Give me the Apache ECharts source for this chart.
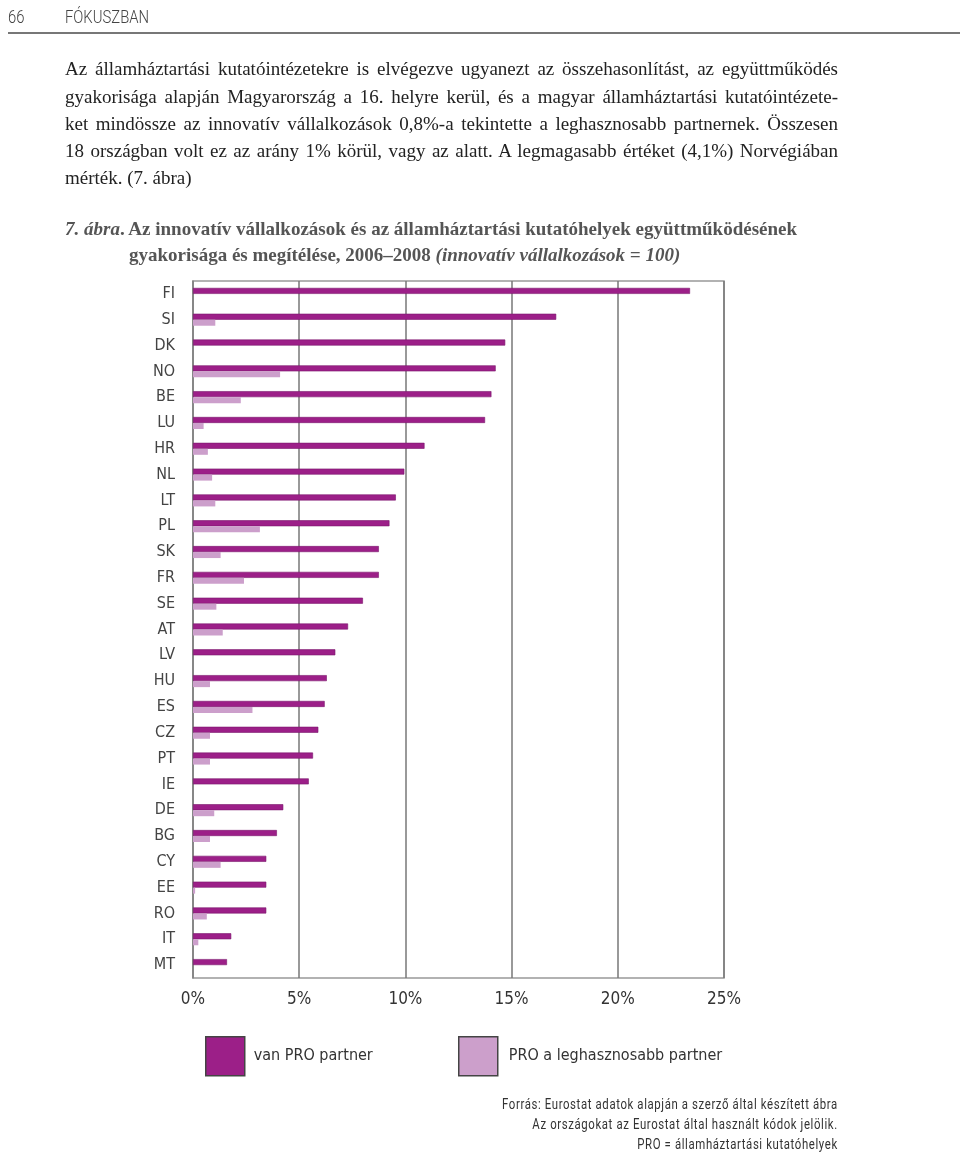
<!DOCTYPE html>
<html><head><meta charset="utf-8">
<script src="https://cdn.jsdelivr.net/npm/echarts@6/dist/echarts.min.js"></script>
<style>
html,body{margin:0;padding:0;background:#fff;}
#page{position:relative;width:960px;height:1154px;overflow:hidden;}
#chart{position:absolute;left:0;top:0;width:960px;height:1154px;}
.t{position:absolute;white-space:nowrap;}
.cond{font-family:"DejaVu Sans Condensed","Roboto",sans-serif;}
.para{position:absolute;left:65px;width:773px;font-family:"Liberation Serif","DejaVu Serif",serif;font-size:19px;color:#222;white-space:nowrap;line-height:27px;}
.j{text-align:justify;text-align-last:justify;}
.cap{position:absolute;font-family:"Liberation Serif","DejaVu Serif",serif;font-size:19px;font-weight:bold;color:#555;white-space:nowrap;line-height:26px;}
</style></head>
<body><div id="page">
<div id="chart"></div>
<div class="t" style="left:8px;top:5px;font-family:Roboto,sans-serif;font-weight:300;font-size:19px;color:#444;transform:scaleX(0.78);transform-origin:left top;">66</div>
<div class="t" style="left:65px;top:5px;font-family:Roboto,sans-serif;font-weight:300;font-size:19px;color:#444;transform:scaleX(0.78);transform-origin:left top;">FÓKUSZBAN</div>
<div style="position:absolute;left:8px;top:32px;width:952px;height:2px;background:#777;"></div>
<div class="para j" style="top:55px;">Az államháztartási kutatóintézetekre is elvégezve ugyanezt az összehasonlítást, az együttműködés</div>
<div class="para j" style="top:83px;">gyakorisága alapján Magyarország a 16. helyre kerül, és a magyar államháztartási kutatóintézete-</div>
<div class="para j" style="top:110px;">ket mindössze az innovatív vállalkozások 0,8%-a tekintette a leghasznosabb partnernek. Összesen</div>
<div class="para j" style="top:137px;">18 országban volt ez az arány 1% körül, vagy az alatt. A legmagasabb értéket (4,1%) Norvégiában</div>
<div class="para" style="top:164px;">mérték. (7. ábra)</div>
<div class="cap" style="left:65px;top:216px;width:732px;text-align:justify;text-align-last:justify;"><i>7. ábra</i>. Az innovatív vállalkozások és az államháztartási kutatóhelyek együttműködésének</div>
<div class="cap" style="left:129px;top:242px;">gyakorisága és megítélése, 2006–2008 <i>(innovatív vállalkozások = 100)</i></div>
<div class="t" style="right:122px;top:1094px;font-family:Roboto,sans-serif;font-size:15px;color:#333;letter-spacing:0.8px;text-align:right;line-height:20px;transform:scaleX(0.76);transform-origin:right top;">Forrás: Eurostat adatok alapján a szerző által készített ábra<br>Az országokat az Eurostat által használt kódok jelölik.<br>PRO = államháztartási kutatóhelyek</div>
</div>
<script>
var categories = ["FI","SI","DK","NO","BE","LU","HR","NL","LT","PL","SK","FR","SE","AT","LV","HU","ES","CZ","PT","IE","DE","BG","CY","EE","RO","IT","MT"];
var vanPro = [23.4,17.1,14.7,14.25,14.05,13.75,10.9,9.95,9.55,9.25,8.75,8.75,8.0,7.3,6.7,6.3,6.2,5.9,5.65,5.45,4.25,3.95,3.45,3.45,3.45,1.8,1.6];
var proLeg = [0,1.05,0,4.1,2.25,0.5,0.7,0.9,1.05,3.15,1.3,2.4,1.1,1.4,0,0.8,2.8,0.8,0.8,0,1.0,0.8,1.3,0.1,0.65,0.25,0];
var xTicks = [0,5,10,15,20,25];
var seriesNames = ["van PRO partner","PRO a leghasznosabb partner"];

var cond = '"DejaVu Sans Condensed","Roboto",sans-serif';
var chart = echarts.init(document.getElementById('chart'), null, {renderer:'canvas'});
chart.setOption({
  animation:false,
  grid:{left:193, top:281, width:531, height:697, show:true, borderColor:'#999', borderWidth:1.5, containLabel:false},
  legend:[
    {data:[seriesNames[0]], left:205, top:1036, padding:0, icon:'rect', itemWidth:39, itemHeight:39, itemGap:10,
     textStyle:{fontFamily:cond, fontSize:16, color:'#333', padding:[0,0,0,4]},
     itemStyle:{borderColor:'#444', borderWidth:1.5}, selectedMode:false},
    {data:[seriesNames[1]], left:458, top:1036, padding:0, icon:'rect', itemWidth:39, itemHeight:39, itemGap:10,
     textStyle:{fontFamily:cond, fontSize:16, color:'#333', padding:[0,0,0,6]},
     itemStyle:{borderColor:'#444', borderWidth:1.5}, selectedMode:false}
  ],
  xAxis:{type:'value', min:0, max:25, interval:5,
    axisLine:{show:false}, axisTick:{show:false},
    splitLine:{show:true, lineStyle:{color:'#777', width:1.5}},
    axisLabel:{formatter:function(v){return v+'%';}, fontFamily:cond, fontSize:17, color:'#333', margin:13}},
  yAxis:{type:'category', data:categories, inverse:true,
    axisLine:{show:true, lineStyle:{color:'#888', width:1.5}}, axisTick:{show:false},
    axisLabel:{fontFamily:cond, fontSize:16, color:'#444', margin:18}},
  series:[
    {name:seriesNames[0], type:'bar', data:vanPro, barWidth:6, barGap:'0%',
     itemStyle:{color:'#9c1f88', borderColor:'#7a176b', borderWidth:0.6}},
    {name:seriesNames[1], type:'bar', data:proLeg, barWidth:6, barGap:'0%',
     itemStyle:{color:'#cc9fcb'}}
  ]
});
</script>
</body></html>
